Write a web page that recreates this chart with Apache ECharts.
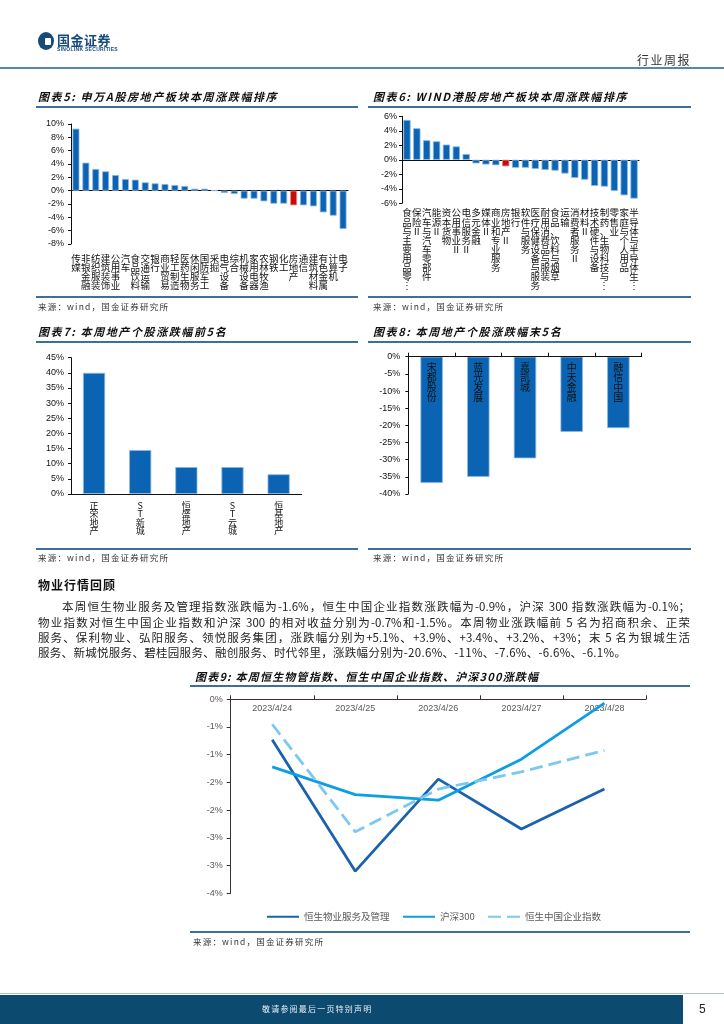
<!DOCTYPE html>
<html>
<head>
<meta charset="utf-8">
<script src="https://cdn.jsdelivr.net/npm/echarts@6/dist/echarts.min.js"></script>
<style>
  html,body{margin:0;padding:0;background:#fff;}
  #page{position:relative;width:724px;height:1024px;overflow:hidden;background:#fff;font-family:'Noto Sans CJK SC','Noto Sans',sans-serif;color:#222;}
  #chart{position:absolute;left:0;top:0;width:724px;height:1024px;}
  .t{position:absolute;white-space:nowrap;line-height:1;}
  .title{font-style:italic;font-weight:bold;font-size:11px;letter-spacing:1.6px;color:#111;}
  .rule{position:absolute;height:2px;background:#3d6f9c;}
  .src{font-size:8.5px;color:#333;letter-spacing:1.2px;}
  .para{position:absolute;font-size:11.5px;line-height:1;color:#222;}
  .just{text-align:justify;text-align-last:justify;}
</style>
</head>
<body>
<div id="page">
  <div id="chart"></div>

  <!-- header -->
  <div style="position:absolute;left:38px;top:32px;width:16px;height:18px;border-radius:50%;background:#164a79;"></div>
  <div style="position:absolute;left:45px;top:38px;width:6px;height:7px;border-radius:1px;background:#fff;"></div>
  <div class="t" style="left:57px;top:33px;font-size:13px;font-weight:bold;color:#174b7b;letter-spacing:0.5px;">国金证券</div>
  <div class="t" style="left:57px;top:47px;font-size:5px;font-weight:bold;color:#174b7b;letter-spacing:0.3px;font-family:'Liberation Sans',Arial,sans-serif;">SINOLINK SECURITIES</div>
  <div class="t" style="left:637px;top:54px;font-size:12px;color:#333;letter-spacing:1.5px;">行业周报</div>
  <div style="position:absolute;left:0;top:67px;width:724px;height:2px;background:#5a86ae;"></div>

  <!-- chart titles -->
  <div class="t title" style="left:38px;top:91px;">图表5: 申万A股房地产板块本周涨跌幅排序</div>
  <div class="rule" style="left:36px;top:106px;width:322px;"></div>
  <div class="t title" style="left:373px;top:91px;">图表6: WIND港股房地产板块本周涨跌幅排序</div>
  <div class="rule" style="left:368px;top:106px;width:323px;"></div>

  <div class="rule" style="left:36px;top:296px;width:322px;"></div>
  <div class="rule" style="left:368px;top:296px;width:323px;"></div>
  <div class="t src" style="left:38px;top:302px;">来源：wind，国金证券研究所</div>
  <div class="t src" style="left:373px;top:302px;">来源：wind，国金证券研究所</div>

  <div class="t title" style="left:38px;top:326px;">图表7: 本周地产个股涨跌幅前5名</div>
  <div class="rule" style="left:36px;top:341px;width:322px;"></div>
  <div class="t title" style="left:373px;top:326px;">图表8: 本周地产个股涨跌幅末5名</div>
  <div class="rule" style="left:368px;top:341px;width:323px;"></div>

  <div class="rule" style="left:36px;top:548px;width:322px;"></div>
  <div class="rule" style="left:368px;top:548px;width:323px;"></div>
  <div class="t src" style="left:38px;top:553px;">来源：wind，国金证券研究所</div>
  <div class="t src" style="left:373px;top:553px;">来源：wind，国金证券研究所</div>

  <!-- text section -->
  <div class="t" style="left:38px;top:579px;font-size:12px;font-weight:bold;color:#111;letter-spacing:1px;">物业行情回顾</div>
  <div class="para just" style="left:62px;top:601px;width:628px;">本周恒生物业服务及管理指数涨跌幅为-1.6%，恒生中国企业指数涨跌幅为-0.9%，沪深 300 指数涨跌幅为-0.1%；</div>
  <div class="para just" style="left:38px;top:617px;width:652px;">物业指数对恒生中国企业指数和沪深 300 的相对收益分别为-0.7%和-1.5%。本周物业涨跌幅前 5 名为招商积余、正荣</div>
  <div class="para just" style="left:38px;top:632px;width:652px;">服务、保利物业、弘阳服务、领悦服务集团，涨跌幅分别为+5.1%、+3.9%、+3.4%、+3.2%、+3%；末 5 名为银城生活</div>
  <div class="para" style="left:38px;top:647px;white-space:nowrap;letter-spacing:0.3px;">服务、新城悦服务、碧桂园服务、融创服务、时代邻里，涨跌幅分别为-20.6%、-11%、-7.6%、-6.6%、-6.1%。</div>

  <div class="t title" style="left:195px;top:671px;letter-spacing:1.2px;">图表9: 本周恒生物管指数、恒生中国企业指数、沪深300涨跌幅</div>
  <div class="rule" style="left:190px;top:685px;width:500px;height:1.5px;"></div>
  <div class="rule" style="left:190px;top:931px;width:500px;height:1.5px;"></div>
  <div class="t src" style="left:193px;top:937px;">来源：wind，国金证券研究所</div>

  <!-- footer -->
  <div style="position:absolute;left:0;top:993px;width:724px;height:1px;background:#a9c4d8;"></div>
  <div style="position:absolute;left:0;top:995px;width:683px;height:29px;background:#0c4a70;"></div>
  <div class="t" style="left:262px;top:1005px;font-size:8px;color:#e8eef3;letter-spacing:1.2px;">敬请参阅最后一页特别声明</div>
  <div class="t" style="left:699px;top:1003px;font-size:12px;color:#222;font-family:'Liberation Sans',Arial,sans-serif;">5</div>
</div>

<script>
// ---------- data ----------
const c5Cats = ['传媒','非银金融','纺织服装','建筑装饰','公用事业','汽车','食品饮料','交通运输','银行','商业贸易','轻工制造','医药生物','休闲服务','国防军工','采掘','电气设备','综合','机械设备','家用电器','农林牧渔','钢铁','化工','房地产','通信','建筑材料','有色金属','计算机','电子'];
const c5Vals = [9.3,4.2,3.25,2.9,2.35,1.75,1.65,1.25,1.1,1.0,0.85,0.7,0.3,0.3,0.02,-0.35,-0.5,-1.2,-1.2,-1.6,-1.95,-1.95,-2.2,-2.2,-2.35,-3.25,-3.75,-5.75];

const c6Cats = ['食品与主要用品零售Ⅱ','保险Ⅱ','汽车与汽车零部件','能源Ⅱ','资本货物','公用事业Ⅱ','电信服务Ⅱ','多元金融','媒体Ⅱ','商业和专业服务','房地产Ⅱ','银行','软件与服务','医疗保健设备与服务','耐用消费品与服装','食品、饮料与烟草','运输','消费者服务Ⅱ','材料Ⅱ','技术硬件与设备','制药、生物科技与生命科学','零售业','家庭与个人用品','半导体与半导体生产设备'];
const c6Vals = [5.5,4.35,2.7,2.55,2.1,1.85,0.8,-0.5,-0.65,-0.75,-0.9,-1.1,-1.1,-1.25,-1.4,-1.5,-1.9,-2.5,-2.75,-3.6,-3.7,-4.3,-4.9,-5.35];

const c7Cats = ['正荣地产','ST新城','恒盛地产','ST云城','恒基地产'];
const c7Vals = [40.0,14.5,8.9,8.9,6.5];

const c8Cats = ['宋都股份','蓝光发展','嘉凯城','中天金融','融信中国'];
const c8Vals = [-36.8,-35.0,-29.6,-21.9,-20.8];

const c9Dates = ['2023/4/24','2023/4/25','2023/4/26','2023/4/27','2023/4/28'];
const hsPropVals = [-0.73,-3.10,-1.44,-2.34,-1.62];
const hs300Vals = [-1.22,-1.72,-1.82,-1.08,-0.07];
const hsceVals = [-0.45,-2.39,-1.62,-1.31,-0.92];
const c9Names = ['恒生物业服务及管理','沪深300','恒生中国企业指数'];

const highlightCats = ['房地产','房地产Ⅱ'];

// ---------- style helpers ----------
const BLUE = '#0b64b3', RED = '#cc0a0a';
const latin = "'Liberation Sans', Arial, sans-serif";
const cjk = "'Noto Sans CJK SC', sans-serif";
function vert(s, max) {
  let a = Array.from(s);
  if (max && a.length > max) a = a.slice(0, max - 1).concat('⋮');
  return a.join('\n');
}
function barData(cats, vals) {
  return vals.map((v, i) => highlightCats.includes(cats[i])
    ? { value: v, itemStyle: { color: RED, borderColor: '#e58a8a' } } : v);
}
const blackLine = { show: true, onZero: false, lineStyle: { color: '#111', width: 1 } };
function yAx(grid, min, max, interval, fmt, extra) {
  return Object.assign({
    type: 'value', gridIndex: grid, min, max, interval,
    axisLine: { show: true, lineStyle: { color: '#111', width: 1 } },
    axisTick: { show: true, length: 3, lineStyle: { color: '#111' } },
    splitLine: { show: false },
    axisLabel: { formatter: fmt || '{value}%', fontFamily: latin, fontSize: 9, color: '#111', margin: 7 }
  }, extra || {});
}
function zeroAxis(grid, cats) {
  return { type: 'category', gridIndex: grid, data: cats, position: 'top',
    axisLine: { show: true, onZero: true, lineStyle: { color: '#111', width: 1 } },
    axisTick: { show: false }, axisLabel: { show: false } };
}
const barItem = { color: BLUE, borderColor: '#8fb9e2', borderWidth: 0.8 };
const legendCommon = { padding: 0, itemWidth: 32, itemHeight: 4, itemStyle: { opacity: 0 },
  textStyle: { fontFamily: cjk, fontSize: 9.5, color: '#595959' } };

const option = {
  animation: false,
  grid: [
    { left: 71, top: 124, width: 277, height: 120, outerBoundsMode: 'none' },
    { left: 402, top: 116.3, width: 237, height: 87, outerBoundsMode: 'none' },
    { left: 71, top: 357.7, width: 230.7, height: 136.3, outerBoundsMode: 'none' },
    { left: 408.3, top: 356.7, width: 233.4, height: 137.3, outerBoundsMode: 'none' },
    { left: 230.7, top: 699.3, width: 415.3, height: 194, outerBoundsMode: 'none' }
  ],
  xAxis: [
    { type: 'category', gridIndex: 0, data: c5Cats, position: 'bottom',
      axisLine: { show: false, onZero: false }, axisTick: { show: false },
      axisLabel: { interval: 0, formatter: v => vert(v), fontFamily: cjk, fontSize: 9.5, lineHeight: 9, color: '#111', margin: 10 } },
    zeroAxis(0, c5Cats),
    { type: 'category', gridIndex: 1, data: c6Cats, position: 'bottom',
      axisLine: { show: false, onZero: false }, axisTick: { show: false },
      axisLabel: { interval: 0, formatter: v => vert(v, 9), fontFamily: cjk, fontSize: 9.5, lineHeight: 9.1, color: '#111', margin: 5 } },
    zeroAxis(1, c6Cats),
    { type: 'category', gridIndex: 2, data: c7Cats, position: 'bottom',
      axisLine: blackLine, axisTick: { show: false },
      axisLabel: { interval: 0, formatter: v => vert(v), fontFamily: cjk, fontSize: 9, lineHeight: 8.5, color: '#111', margin: 7 } },
    { type: 'category', gridIndex: 3, data: c8Cats, position: 'top', z: 10,
      axisLine: blackLine, axisTick: { show: true, length: 4, lineStyle: { color: '#111' } },
      axisLabel: { interval: 0, inside: true, formatter: v => vert(v), fontFamily: cjk, fontSize: 10, lineHeight: 10, color: '#111', margin: 6 } },
    { type: 'category', gridIndex: 4, data: c9Dates, position: 'top',
      axisLine: { show: true, onZero: false, lineStyle: { color: '#333', width: 1 } },
      axisTick: { show: true, length: 4, lineStyle: { color: '#333' } },
      axisLabel: { interval: 0, inside: true, fontFamily: latin, fontSize: 9, color: '#595959', margin: 5 } }
  ],
  yAxis: [
    yAx(0, -8, 10, 2),
    yAx(1, -6, 6, 2, null, { axisLabel: { formatter: '{value}%', fontFamily: latin, fontSize: 9, color: '#111', margin: 5 } }),
    yAx(2, 0, 45, 5),
    yAx(3, -40, 0, 5, null, { axisLabel: { formatter: '{value}%', fontFamily: latin, fontSize: 9, color: '#111', margin: 8 } }),
    yAx(4, -3.5, 0, 0.5, null, {
      axisLine: { show: true, lineStyle: { color: '#333', width: 1 } },
      axisTick: { show: true, length: 4, lineStyle: { color: '#333' } },
      axisLabel: { fontFamily: latin, fontSize: 9, color: '#595959', margin: 8,
        formatter: v => (v < 0 ? -Math.round(-v) : Math.round(v)) + '%' } })
  ],
  legend: [
    Object.assign({ data: [c9Names[0]], left: 266, top: 912 }, legendCommon),
    Object.assign({ data: [c9Names[1]], left: 402, top: 912 }, legendCommon),
    Object.assign({ data: [c9Names[2]], left: 487, top: 912 }, legendCommon)
  ],
  series: [
    { type: 'bar', xAxisIndex: 0, yAxisIndex: 0, data: barData(c5Cats, c5Vals), barWidth: '70%', itemStyle: barItem },
    { type: 'bar', xAxisIndex: 2, yAxisIndex: 1, data: barData(c6Cats, c6Vals), barWidth: '74%', itemStyle: barItem },
    { type: 'bar', xAxisIndex: 4, yAxisIndex: 2, data: c7Vals, barWidth: '48%', itemStyle: barItem },
    { type: 'bar', xAxisIndex: 5, yAxisIndex: 3, data: c8Vals, barWidth: '48%', itemStyle: barItem },
    { type: 'line', name: c9Names[0], xAxisIndex: 6, yAxisIndex: 4, data: hsPropVals, symbol: 'none', color: '#1a62ad',
      lineStyle: { width: 2.8, color: '#1a62ad' } },
    { type: 'line', name: c9Names[1], xAxisIndex: 6, yAxisIndex: 4, data: hs300Vals, symbol: 'none', color: '#0c9de3',
      lineStyle: { width: 2.8, color: '#0c9de3' } },
    { type: 'line', name: c9Names[2], xAxisIndex: 6, yAxisIndex: 4, data: hsceVals, symbol: 'none', color: '#7cc8f0',
      lineStyle: { width: 2.8, color: '#7cc8f0', type: [13, 6] } }
  ]
};

const chart = echarts.init(document.getElementById('chart'), null, { renderer: 'canvas', width: 724, height: 1024 });
chart.setOption(option);
</script>
</body>
</html>
